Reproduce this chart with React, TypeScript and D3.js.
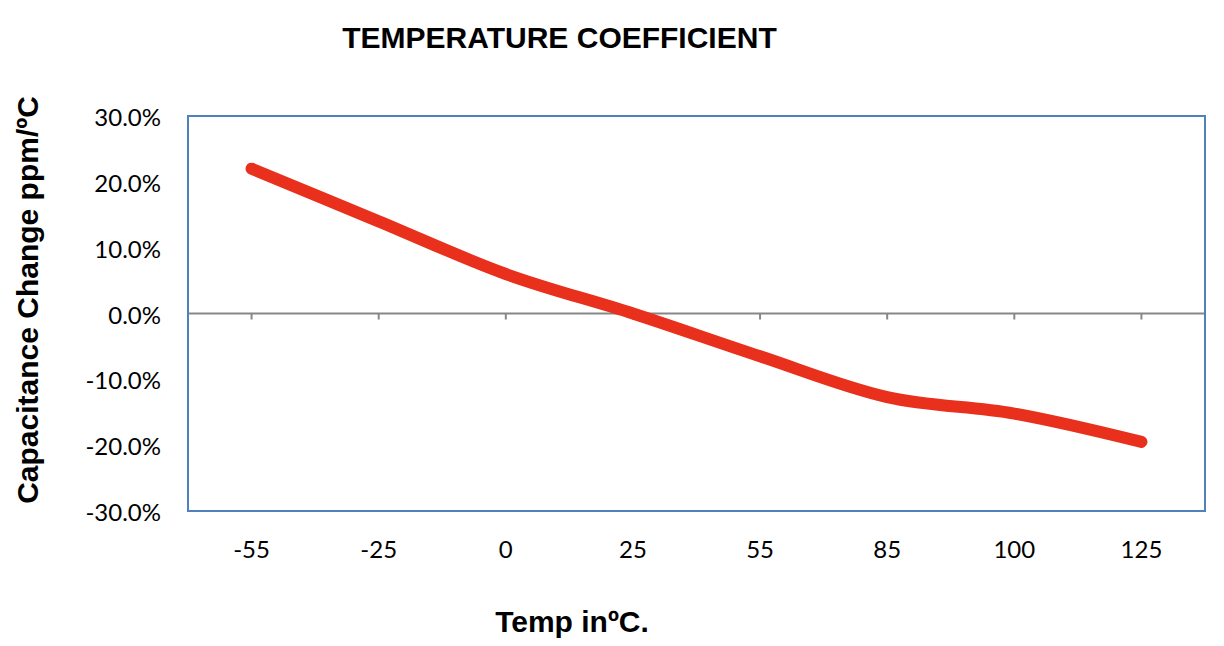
import React from "react";
import * as d3 from "d3";

const categories = ["-55", "-25", "0", "25", "55", "85", "100", "125"];
const values = [22, 14, 6, 0, -6.5, -12.7, -15.2, -19.5];
const yTicks = [30, 20, 10, 0, -10, -20, -30];

const W = 1224;
const H = 646;
const plot = { left: 188, right: 1205, top: 116, bottom: 511 };

export default function App() {
  const x = d3
    .scaleBand<string>()
    .domain(categories)
    .range([plot.left, plot.right])
    .paddingInner(0)
    .paddingOuter(0);
  const cx = (c: string) => (x(c) as number) + x.bandwidth() / 2;
  const y = d3.scaleLinear().domain([-30, 30]).range([plot.bottom, plot.top]);

  const line = d3
    .line<number>()
    .x((_, i) => cx(categories[i]))
    .y((d) => y(d))
    .curve(d3.curveCatmullRom.alpha(0));

  const titleFont = "'Liberation Sans', Arial, sans-serif";
  const labelFont = "Lato, 'Open Sans', sans-serif";

  return (
    <svg
      width={W}
      height={H}
      style={{ position: "absolute", left: 0, top: 0, background: "#fff" }}
    >
      <rect x={0} y={0} width={W} height={H} fill="#fff" />
      <text
        x={559.5}
        y={48}
        textAnchor="middle"
        fontFamily={titleFont}
        fontWeight="bold"
        fontSize={30}
        fill="#000"
      >
        TEMPERATURE COEFFICIENT
      </text>

      {/* zero line */}
      <line
        x1={plot.left}
        x2={plot.right}
        y1={y(0)}
        y2={y(0)}
        stroke="#878787"
        strokeWidth={2}
      />
      {categories.map((c) => (
        <line
          key={"t" + c}
          x1={cx(c)}
          x2={cx(c)}
          y1={y(0)}
          y2={y(0) + 6}
          stroke="#878787"
          strokeWidth={2}
        />
      ))}

      {/* plot border */}
      <rect
        x={plot.left}
        y={plot.top}
        width={plot.right - plot.left}
        height={plot.bottom - plot.top}
        fill="none"
        stroke="#4f81bd"
        strokeWidth={2}
      />

      {/* data line */}
      <path
        d={line(values) || ""}
        fill="none"
        stroke="#e8301c"
        strokeWidth={12}
        strokeLinecap="round"
        strokeLinejoin="round"
      />

      {/* y tick labels */}
      {yTicks.map((t) => (
        <text
          key={"y" + t}
          x={161}
          y={y(t) + 10}
          textAnchor="end"
          fontFamily={labelFont}
          fontSize={24}
          fill="#000"
        >
          {t.toFixed(1) + "%"}
        </text>
      ))}

      {/* x tick labels */}
      {categories.map((c) => (
        <text
          key={"x" + c}
          x={cx(c)}
          y={558}
          textAnchor="middle"
          fontFamily={labelFont}
          fontSize={24}
          fill="#000"
        >
          {c}
        </text>
      ))}

      <text
        x={572}
        y={632}
        textAnchor="middle"
        fontFamily={titleFont}
        fontWeight="bold"
        fontSize={30}
        fill="#000"
      >
        Temp inºC.
      </text>

      <text
        transform={`translate(38,300) rotate(-90)`}
        textAnchor="middle"
        fontFamily={titleFont}
        fontWeight="bold"
        fontSize={30}
        fill="#000"
      >
        Capacitance Change ppm/ºC
      </text>
    </svg>
  );
}
